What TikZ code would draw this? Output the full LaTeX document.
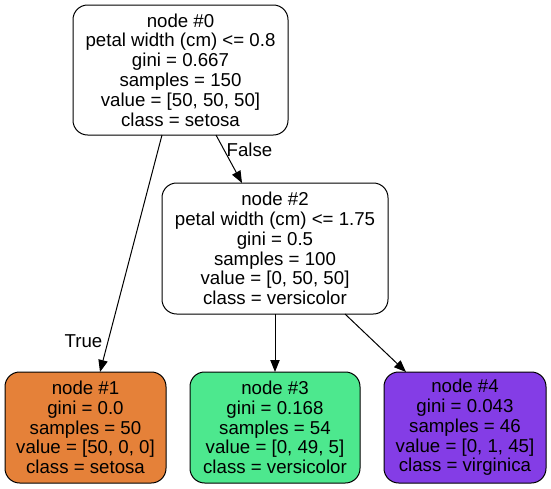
\documentclass[tikz,border=0pt]{standalone}
\usepackage{fontspec}
\setmainfont{Liberation Sans}
\usetikzlibrary{arrows.meta,calc}
\definecolor{setosacol}{RGB}{229,129,57}
\definecolor{versicol}{RGB}{77,232,142}
\definecolor{virgcol}{RGB}{132,61,230}
\begin{document}
\begin{tikzpicture}[x=0.75pt,y=-0.75pt,
  treebox/.style={draw=black, line width=0.75pt, rounded corners=11pt, align=center, inner sep=0pt, outer sep=0pt,
    font=\fontsize{14pt}{14.85pt}\selectfont},
  conn/.style={-{Triangle[length=9pt,width=7pt]}, line width=0.75pt},
  lbl/.style={font=\fontsize{14pt}{14.85pt}\selectfont, inner sep=0pt}]
\useasboundingbox (0,0) rectangle (551,489);
\node[treebox, fill=white, minimum width=161.25pt, minimum height=97.5pt] (n0) at (180.5,70)
  {node \#0\\petal width (cm) <= 0.8\\gini = 0.667\\samples = 150\\value = [50, 50, 50]\\class = setosa};
\node[treebox, fill=white, minimum width=169.5pt, minimum height=98.25pt] (n2) at (275,248.5)
  {node \#2\\petal width (cm) <= 1.75\\gini = 0.5\\samples = 100\\value = [0, 50, 50]\\class = versicolor};
\node[treebox, fill=setosacol, minimum width=120.75pt, minimum height=83.25pt] (n1) at (85.5,427.5)
  {node \#1\\gini = 0.0\\samples = 50\\value = [50, 0, 0]\\class = setosa};
\node[treebox, fill=versicol, minimum width=127.5pt, minimum height=83.25pt] (n3) at (275,427.5)
  {node \#3\\gini = 0.168\\samples = 54\\value = [0, 49, 5]\\class = versicolor};
\node[treebox, fill=virgcol, minimum width=121.5pt, minimum height=83.25pt] (n4) at (465,427.5)
  {node \#4\\gini = 0.043\\samples = 46\\value = [0, 1, 45]\\class = virginica};
\draw[conn] ($(n0.south)+(-18.5,0)$) -- ($(n1.north)+(14.5,0)$);
\draw[conn] ($(n0.south)+(35.5,0)$) -- ($(n2.north)+(-33,0)$);
\draw[conn] (n2.south) -- (n3.north);
\draw[conn] ($(n2.south)+(70,0)$) -- ($(n4.north)+(-59,0)$);
\node[lbl] (ltrue) at (83.5,341.5) {True};
\node[lbl] (lfalse) at (249.5,150) {False};
\end{tikzpicture}
\end{document}
